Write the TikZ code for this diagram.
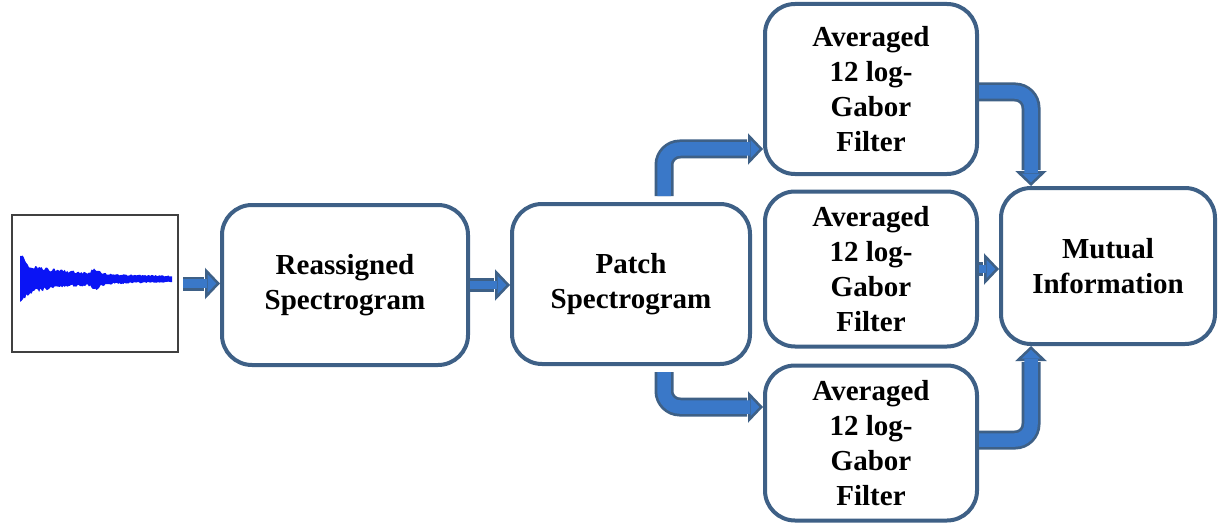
\documentclass[tikz,border=0pt]{standalone}
\usepackage{fontspec}
\setmainfont{Liberation Serif}
\usetikzlibrary{arrows.meta,calc}
\definecolor{edge}{RGB}{62,96,134}
\definecolor{arrowblue}{RGB}{58,120,200}
\definecolor{wave}{RGB}{10,20,245}
\begin{document}
\begin{tikzpicture}[x=1pt,y=-1pt,
  blk/.style={draw=edge, line width=4pt, rounded corners=30pt, fill=white,
    align=center, font=\fontsize{29}{35}\selectfont\bfseries, inner sep=0pt},
  tipst/.style={draw=edge, line width=2.5pt,
    -{Triangle[length=15pt,width=31pt,fill=arrowblue,line join=miter]}},
  shaftout/.style={draw=edge, line width=#1, shorten >=16pt},
  shaftin/.style={draw=arrowblue, line width=#1-5.5pt, shorten >=13pt},
  bent/.style={rounded corners=16pt}
]
\useasboundingbox (0,0) rectangle (1218,524);
% nodes
\node[draw=black!75, line width=2.5pt, minimum width=166pt, minimum height=137pt, inner sep=0pt] (wave) at (95,283.5) {};
\node[blk, minimum width=246pt, minimum height=160pt] (box1) at (345,285) {Reassigned\\Spectrogram};
\node[blk, minimum width=238pt, minimum height=160pt] (box2) at (631,284) {Patch\\Spectrogram};
\node[blk, minimum width=212pt, minimum height=170pt] (f1) at (871,89) {Averaged\\12 log-\\Gabor\\Filter};
\node[blk, minimum width=212pt, minimum height=155pt] (f2) at (871,269) {Averaged\\12 log-\\Gabor\\Filter};
\node[blk, minimum width=212pt, minimum height=155pt] (f3) at (871,443) {Averaged\\12 log-\\Gabor\\Filter};
\node[blk, minimum width=214pt, minimum height=156pt] (mi) at (1108,266) {Mutual\\Information};
% waveform
\pgfmathsetseed{7}
\fill[wave] (20,279)
  -- plot[domain=20:172, samples=120] (\x, {279 - (2+13*exp(-(\x-20)/4)+12*exp(-(\x-20)/60)+4*exp(-((\x-96)/6)^2))*(0.8+0.4*rnd)})
  -- plot[domain=172:20, samples=120] (\x, {279 + (2+14*exp(-(\x-20)/4)+12*exp(-(\x-20)/60)+4*exp(-((\x-96)/6)^2))*(0.8+0.4*rnd)})
  -- cycle;
% coordinates
\coordinate (a1s) at ($(wave.east)+(4,0)$);
\coordinate (a1e) at (a1s -| box1.west);
\coordinate (a2s) at (box1.east);
\coordinate (a2e) at (box1.east -| box2.west);
\coordinate (a3s) at ($(box2.north)+(33,-6)$);
\coordinate (a3e) at ($(f1.west)+(0,60)$);
\coordinate (a4s) at ($(box2.south)+(33,6)$);
\coordinate (a4e) at ($(f3.west)+(0,-36)$);
\coordinate (a5s) at (f2.east);
\coordinate (a5e) at (f2.east -| mi.west);
\coordinate (a6s) at ($(f1.east)+(0,3)$);
\coordinate (a6e) at ($(mi.north)+(-77,0)$);
\coordinate (a7s) at ($(f3.east)+(0,-3)$);
\coordinate (a7e) at ($(mi.south)+(-77,0)$);
% straight arrows
\foreach \s/\e in {a1s/a1e, a2s/a2e, a5s/a5e}{
  \path[tipst] ($(\e)+(-17,0)$) -- (\e);
  \draw[shaftout=14pt] (\s) -- (\e);
  \draw[shaftin=14pt] (\s) -- (\e);
}
% bent arrows
\path[tipst] ($(a3e)+(-17,0)$) -- (a3e);
\draw[shaftout=19pt, bent] (a3s) |- (a3e);
\draw[shaftin=19pt, bent] (a3s) |- (a3e);
\path[tipst] ($(a4e)+(-17,0)$) -- (a4e);
\draw[shaftout=19pt, bent] (a4s) |- (a4e);
\draw[shaftin=19pt, bent] (a4s) |- (a4e);
\path[tipst] ($(a6e)+(0,-17)$) -- (a6e);
\draw[shaftout=19pt, bent] (a6s) -| (a6e);
\draw[shaftin=19pt, bent] (a6s) -| (a6e);
\path[tipst] ($(a7e)+(0,17)$) -- (a7e);
\draw[shaftout=19pt, bent] (a7s) -| (a7e);
\draw[shaftin=19pt, bent] (a7s) -| (a7e);
\end{tikzpicture}
\end{document}
